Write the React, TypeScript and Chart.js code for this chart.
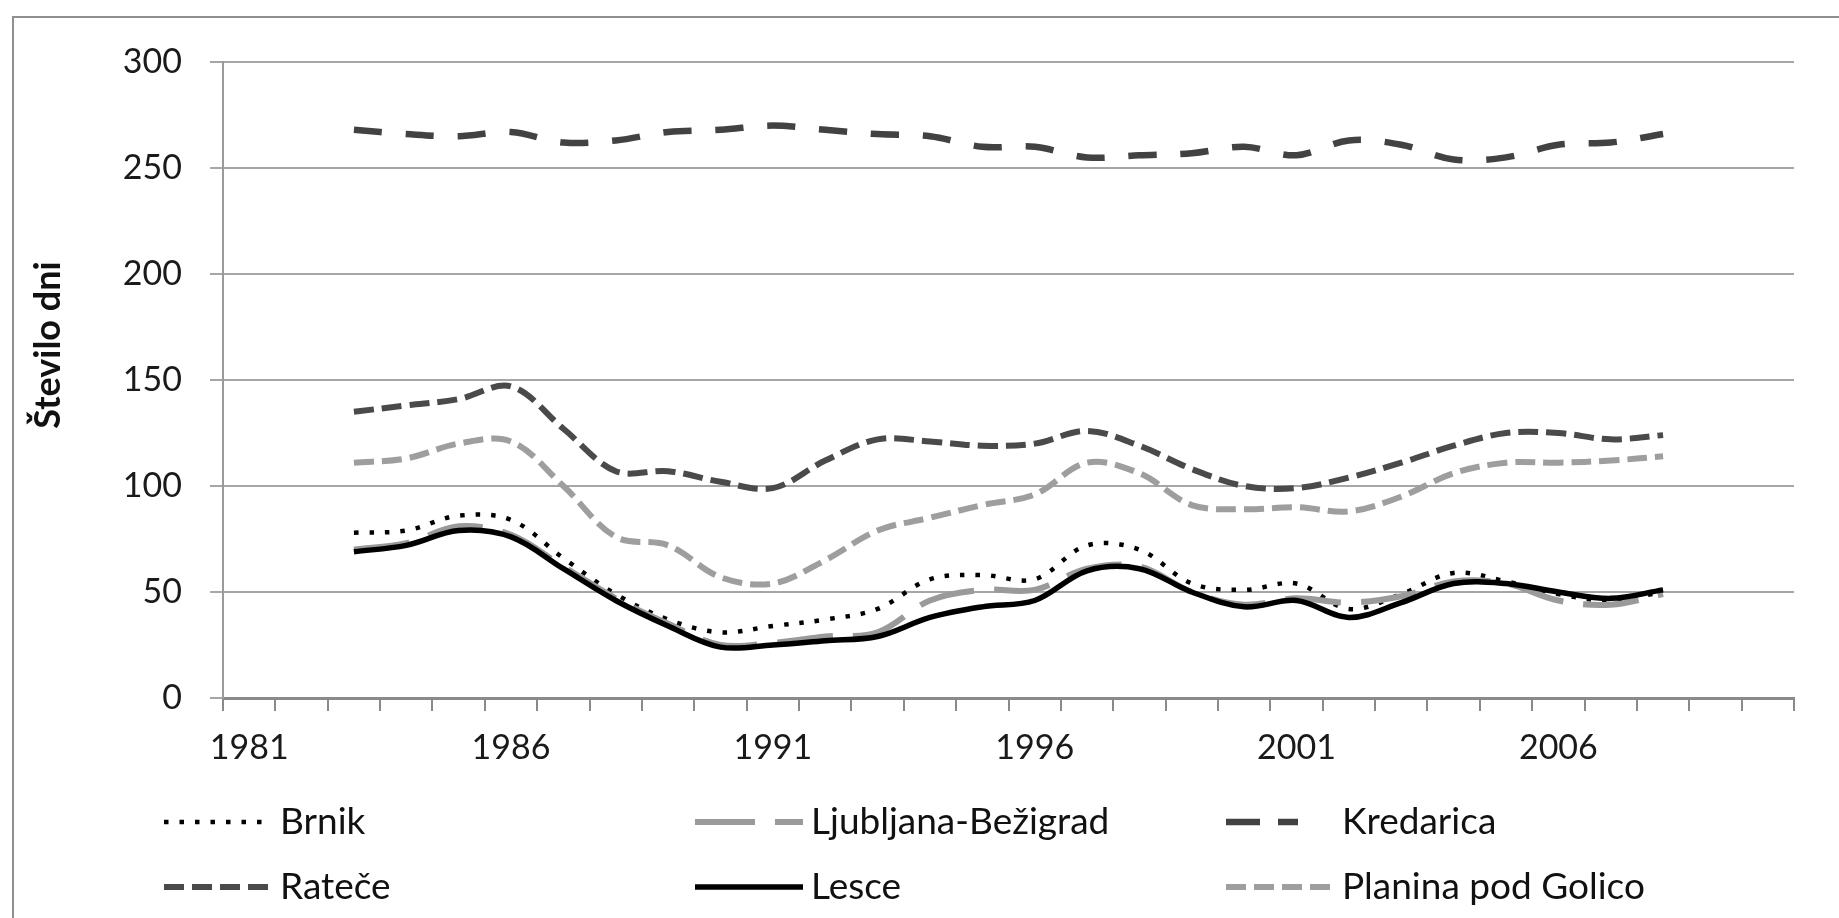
import React, { useEffect, useRef } from "react";
import { Chart, registerables } from "chart.js";

Chart.register(...registerables);

// Category axis (one category per year)
const YEARS = [
  "1981", "1982", "1983", "1984", "1985", "1986", "1987", "1988", "1989", "1990",
  "1991", "1992", "1993", "1994", "1995", "1996", "1997", "1998", "1999", "2000",
  "2001", "2002", "2003", "2004", "2005", "2006", "2007", "2008", "2009", "2010",
];

// Years that carry data
const DATA_YEARS = [
  "1983", "1984", "1985", "1986", "1987", "1988", "1989", "1990", "1991", "1992",
  "1993", "1994", "1995", "1996", "1997", "1998", "1999", "2000", "2001", "2002",
  "2003", "2004", "2005", "2006", "2007", "2008",
];

const BRNIK = [78, 79, 86, 84, 66, 49, 37, 31, 34, 37, 42, 56, 58, 56, 72, 70, 54, 51, 54, 42, 49, 59, 55, 49, 46, 50];
const LJUBLJANA = [70, 73, 81, 77, 62, 47, 35, 25, 26, 29, 31, 46, 51, 51, 61, 62, 50, 44, 47, 45, 48, 55, 54, 46, 44, 49];
const KREDARICA = [268, 266, 265, 267, 262, 263, 267, 268, 270, 268, 266, 265, 260, 260, 255, 256, 257, 260, 256, 263, 261, 254, 255, 261, 262, 266];
const RATECE = [135, 138, 141, 147, 127, 107, 107, 102, 99, 112, 122, 121, 119, 120, 126, 119, 108, 100, 99, 104, 111, 119, 125, 125, 122, 124];
const LESCE = [69, 72, 79, 76, 61, 46, 34, 24, 25, 27, 29, 38, 43, 46, 60, 61, 50, 43, 46, 38, 45, 54, 54, 50, 47, 51];
const PLANINA = [111, 113, 120, 121, 100, 76, 72, 57, 54, 65, 79, 85, 91, 96, 111, 106, 91, 89, 90, 88, 95, 106, 111, 111, 112, 114];

const SERIES_NAMES = ["Brnik", "Ljubljana-Bežigrad", "Kredarica", "Rateče", "Lesce", "Planina pod Golico"];

const Y_TICKS = [0, 50, 100, 150, 200, 250, 300];
const Y_TITLE = "Število dni";

const W = 1839;
const H = 918;
const FONT = "Lato";

function toSeries(values: number[]) {
  return YEARS.map((y) => {
    const i = DATA_YEARS.indexOf(y);
    return i >= 0 ? values[i] : null;
  });
}

const STYLES = [
  { color: "#000000", width: 4.5, dash: [4.5, 11], order: 5, legendDash: [4.5, 11], legendLen: 108 },
  { color: "#9a9a9a", width: 6, dash: [56, 20], order: 4, legendDash: [60, 20], legendLen: 108 },
  { color: "#424242", width: 6.5, dash: [28, 24], order: 3, legendDash: [34, 18], legendLen: 72 },
  { color: "#4a4a4a", width: 6, dash: [20, 8], order: 2, legendDash: [20, 8], legendLen: 108 },
  { color: "#000000", width: 5.5, dash: [] as number[], order: 1, legendDash: [] as number[], legendLen: 108 },
  { color: "#9e9e9e", width: 6, dash: [20, 8], order: 0, legendDash: [20, 8], legendLen: 108 },
];

const frameAndTitlePlugin = {
  id: "frameAndTitle",
  beforeDraw(chart: any) {
    const ctx = chart.ctx;
    ctx.save();
    ctx.fillStyle = "#ffffff";
    ctx.fillRect(0, 0, chart.width, chart.height);
    ctx.strokeStyle = "#8f8f8f";
    ctx.lineWidth = 2;
    ctx.beginPath();
    ctx.moveTo(13, chart.height);
    ctx.lineTo(13, 17);
    ctx.lineTo(chart.width, 17);
    ctx.stroke();
    ctx.restore();
  },
  afterDraw(chart: any) {
    const ctx = chart.ctx;
    ctx.save();
    ctx.translate(48, 345);
    ctx.rotate(-Math.PI / 2);
    ctx.font = `bold 36px ${FONT}`;
    ctx.fillStyle = "#111111";
    ctx.textAlign = "center";
    ctx.textBaseline = "middle";
    ctx.fillText(Y_TITLE, 0, 0);
    ctx.restore();

    // legend: 3 columns x 2 rows
    chart.data.datasets.forEach((ds: any, i: number) => {
      const st = STYLES[i];
      const col = i % 3;
      const row = Math.floor(i / 3);
      const x = 164 + col * 531;
      const y = row === 0 ? 822 : 887;
      ctx.save();
      ctx.strokeStyle = ds.borderColor;
      ctx.lineWidth = ds.borderWidth;
      ctx.setLineDash(st.legendDash);
      ctx.lineCap = "butt";
      ctx.beginPath();
      ctx.moveTo(x, y);
      ctx.lineTo(x + st.legendLen, y);
      ctx.stroke();
      ctx.setLineDash([]);
      ctx.fillStyle = "#111111";
      ctx.font = `37px ${FONT}`;
      ctx.textBaseline = "middle";
      ctx.textAlign = "left";
      ctx.fillText(ds.label, x + 116, y);
      ctx.restore();
    });
  },
};

export default function App() {
  const ref = useRef<HTMLCanvasElement | null>(null);

  useEffect(() => {
    document.body.style.margin = "0";
    if (!ref.current) return;
    const values = [BRNIK, LJUBLJANA, KREDARICA, RATECE, LESCE, PLANINA];
    const chart = new Chart(ref.current, {
      type: "line",
      data: {
        labels: YEARS,
        datasets: values.map((v, i) => ({
          label: SERIES_NAMES[i],
          data: toSeries(v),
          borderColor: STYLES[i].color,
          borderWidth: STYLES[i].width,
          borderDash: STYLES[i].dash,
          borderCapStyle: "butt",
          pointRadius: 0,
          tension: 0.35,
          fill: false,
          order: STYLES[i].order,
        })),
      },
      options: {
        responsive: false,
        animation: false,
        devicePixelRatio: 1,
        layout: { padding: { left: 0, top: 62, right: W - 1794, bottom: H - 698 - 80 } },
        plugins: { legend: { display: false }, tooltip: { enabled: false }, title: { display: false } },
        scales: {
          x: {
            type: "category",
            offset: true,
            grid: {
              offset: true,
              drawOnChartArea: false,
              drawTicks: true,
              tickLength: 13,
              color: "#8a8a8a",
              lineWidth: 2,
            },
            border: { display: true, color: "#8a8a8a", width: 3 },
            ticks: {
              autoSkip: false,
              maxRotation: 0,
              minRotation: 0,
              padding: 17,
              color: "#1a1a1a",
              font: { family: FONT, size: 34 },
              callback: (_v: any, i: number) => (i % 5 === 0 ? YEARS[i] : ""),
            },
            afterFit: (s: any) => {
              s.height = 80;
            },
          },
          y: {
            min: 0,
            max: 300,
            afterBuildTicks: (s: any) => {
              s.ticks = Y_TICKS.map((v) => ({ value: v }));
            },
            grid: { color: "#a6a6a6", lineWidth: 2, tickLength: 13, drawTicks: true },
            border: { display: true, color: "#9a9a9a", width: 2 },
            ticks: {
              padding: 28,
              color: "#1a1a1a",
              font: { family: FONT, size: 34 },
            },
            afterFit: (s: any) => {
              s.width = 223;
            },
          },
        },
      },
      plugins: [frameAndTitlePlugin],
    });
    return () => chart.destroy();
  }, []);

  return (
    <div style={{ width: W, height: H, position: "relative", background: "#fff" }}>
      <canvas ref={ref} width={W} height={H} style={{ width: W, height: H, display: "block" }} />
    </div>
  );
}
